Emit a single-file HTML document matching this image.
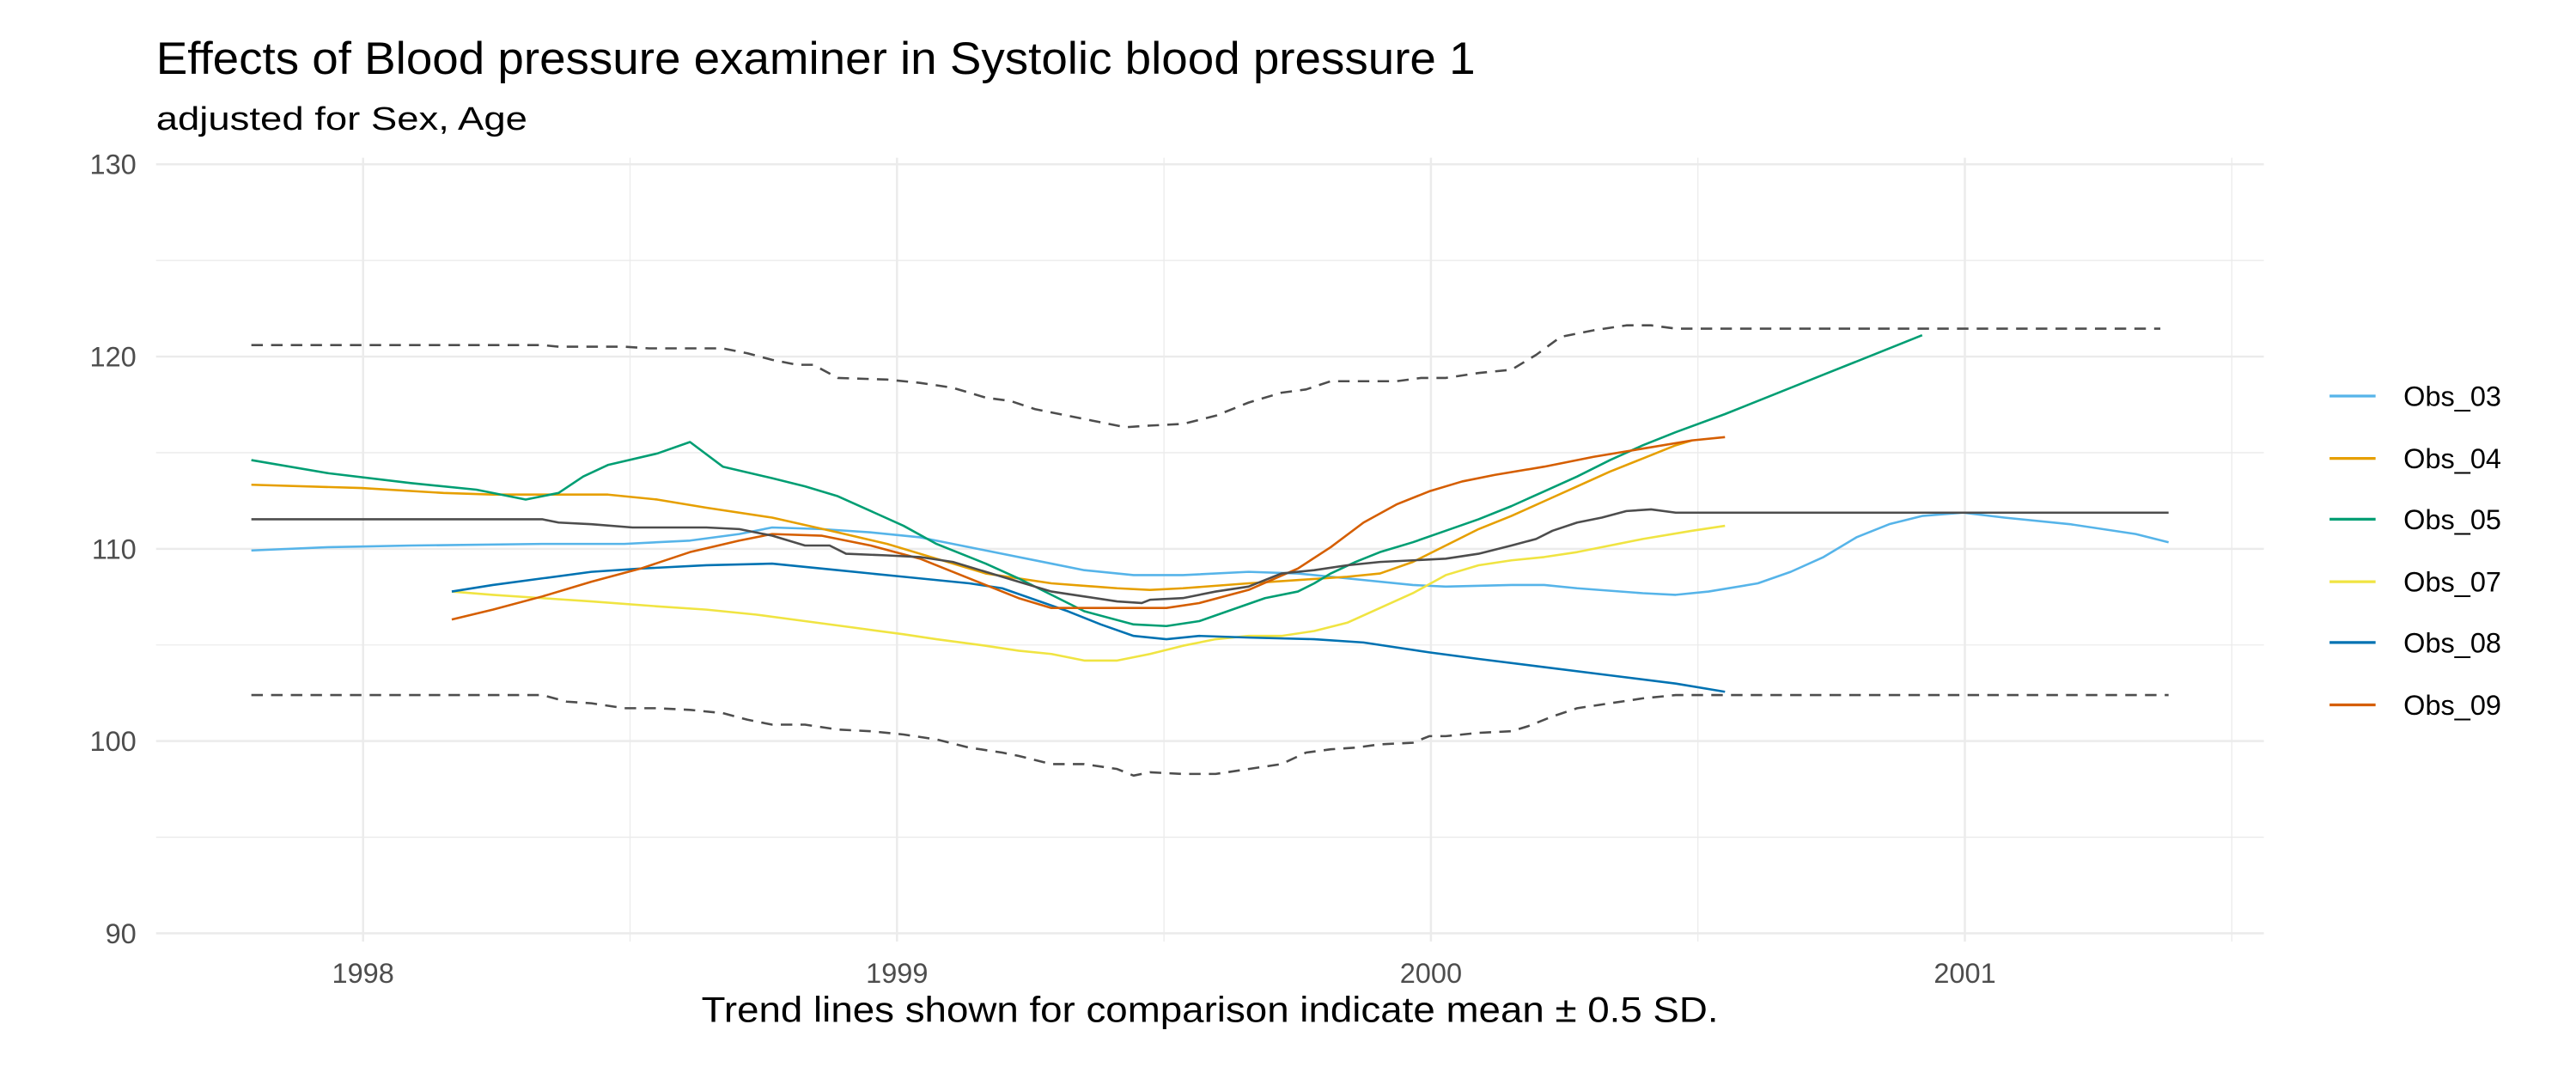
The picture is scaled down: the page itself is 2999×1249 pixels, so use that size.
<!DOCTYPE html>
<html><head><meta charset="utf-8"><style>html,body{margin:0;padding:0;background:#fff}svg{display:block}</style></head>
<body>
<svg width="2999" height="1249" viewBox="0 0 1568 653" preserveAspectRatio="none" xmlns="http://www.w3.org/2000/svg" font-family="Liberation Sans, Arial, sans-serif">
<rect width="1568" height="653" fill="#fff"/>
<g stroke="#EBEBEB" stroke-width="0.7" fill="none">
<line x1="95" x2="1378" y1="158.5" y2="158.5"/><line x1="95" x2="1378" y1="275.5" y2="275.5"/><line x1="95" x2="1378" y1="392.5" y2="392.5"/><line x1="95" x2="1378" y1="509.5" y2="509.5"/>
<line x1="383.5" x2="383.5" y1="96" y2="573"/><line x1="708.5" x2="708.5" y1="96" y2="573"/><line x1="1033.5" x2="1033.5" y1="96" y2="573"/><line x1="1358.5" x2="1358.5" y1="96" y2="573"/>
</g>
<g stroke="#EBEBEB" stroke-width="1.3" fill="none">
<line x1="95" x2="1378" y1="100" y2="100"/><line x1="95" x2="1378" y1="217" y2="217"/><line x1="95" x2="1378" y1="334" y2="334"/><line x1="95" x2="1378" y1="451" y2="451"/><line x1="95" x2="1378" y1="568" y2="568"/>
<line x1="221" x2="221" y1="96" y2="573"/><line x1="546" x2="546" y1="96" y2="573"/><line x1="871" x2="871" y1="96" y2="573"/><line x1="1196" x2="1196" y1="96" y2="573"/>
</g>
<g fill="none" stroke-width="1.35" stroke-linejoin="round">
<polyline stroke="#4D4D4D" stroke-dasharray="7,5" points="153,210 330,210 340,211 380,211 395,212 420,212 440,212 455,215 470,219 485,222 495,222 510,230 540,231 560,233 580,236 600,242 615,244 630,249 650,253 670,257 685,260 700,259 720,258 740,253 760,245 780,239 795,237 810,232 830,232 850,232 865,230 880,230 900,227 920,225 935,216 950,205 970,201 990,198 1005,198 1020,200 1100,200 1315,200"/>
<polyline stroke="#4D4D4D" stroke-dasharray="7,5" points="153,423 330,423 345,427 360,428 380,431 400,431 420,432 440,434 455,438 470,441 490,441 510,444 530,445 550,447 570,450 590,455 610,458 620,460 640,465 660,465 680,468 690,472 700,470 720,471 740,471 760,468 780,465 795,458 810,456 825,455 840,453 860,452 870,448 880,448 900,446 920,445 930,442 945,436 960,431 980,428 1000,425 1020,423 1050,423 1320,423"/>
<polyline stroke="#56B4E9" points="153,335 200,333 250,332 330,331 380,331 420,329 450,325 470,321 500,322 530,324 560,327 580,331 600,335 640,343 660,347 690,350 720,350 760,348 790,349 820,352 860,356 880,357 920,356 940,356 960,358 1000,361 1020,362 1040,360 1070,355 1090,348 1110,339 1130,327 1150,319 1170,314 1195,312 1220,315 1260,319 1300,325 1320,330"/>
<polyline stroke="#E69F00" points="153,295 220,297 270,300 300,301 340,301 370,301 400,304 430,309 470,315 510,324 540,331 570,340 600,349 640,355 680,358 700,359 720,358 760,355 790,353 820,351 840,349 860,342 880,332 900,322 920,314 940,305 960,296 980,287 1000,279 1020,271 1030,268"/>
<polyline stroke="#009E73" points="153,280 200,288 250,294 290,298 320,304 340,300 355,290 370,283 400,276 420,269 440,284 470,291 490,296 510,302 530,311 550,320 570,331 600,343 620,352 640,362 660,372 690,380 710,381 730,378 750,371 770,364 790,360 800,355 810,349 825,342 840,336 860,330 880,323 900,316 920,308 940,299 960,290 980,280 1000,271 1020,263 1050,252 1080,240 1110,228 1140,216 1170,204"/>
<polyline stroke="#F0E442" points="275,360 300,362 330,364 360,366 400,369 430,371 460,374 490,378 520,382 550,386 570,389 600,393 620,396 640,398 660,402 680,402 700,398 720,393 740,389 760,387 780,387 800,384 820,379 840,370 860,361 880,350 900,344 920,341 940,339 960,336 980,332 1000,328 1030,323 1050,320"/>
<polyline stroke="#0072B2" points="275,360 300,356 330,352 360,348 390,346 430,344 470,343 510,347 550,351 590,355 610,358 630,365 650,372 670,380 690,387 710,389 730,387 760,388 800,389 830,391 870,397 900,401 940,406 980,411 1020,416 1050,421"/>
<polyline stroke="#D55E00" points="275,377 300,371 330,363 360,354 390,346 420,336 450,329 470,325 500,326 530,332 560,340 590,352 620,364 640,370 660,370 680,370 710,370 730,367 760,359 790,346 810,333 830,318 850,307 870,299 890,293 910,289 940,284 970,278 1000,273 1030,268 1050,266"/>
<polyline stroke="#4D4D4D" points="153,316 330,316 340,318 360,319 385,321 430,321 450,322 470,326 490,332 505,332 515,337 540,338 560,339 580,342 600,348 620,354 640,360 660,363 680,366 695,367 700,365 720,364 740,360 760,357 780,349 800,347 820,344 840,342 860,341 880,340 900,337 920,332 935,328 945,323 960,318 975,315 990,311 1005,310 1020,312 1100,312 1320,312"/>
</g>
<g fill="#4D4D4D" font-size="17" text-anchor="end">
<text x="83" y="106">130</text><text x="83" y="223">120</text><text x="83" y="340">110</text><text x="83" y="457">100</text><text x="83" y="574">90</text>
</g>
<g fill="#4D4D4D" font-size="17" text-anchor="middle">
<text x="221" y="598">1998</text><text x="546" y="598">1999</text><text x="871" y="598">2000</text><text x="1196" y="598">2001</text>
</g>
<text x="95" y="45" font-size="27.5" fill="#000" textLength="803" lengthAdjust="spacingAndGlyphs">Effects of Blood pressure examiner in Systolic blood pressure 1</text>
<text x="95" y="79" font-size="20" fill="#000" textLength="226" lengthAdjust="spacingAndGlyphs">adjusted for Sex, Age</text>
<text x="427" y="622" font-size="22" fill="#000" textLength="619" lengthAdjust="spacingAndGlyphs">Trend lines shown for comparison indicate mean ± 0.5 SD.</text>
<g stroke-width="1.7">
<line x1="1418" x2="1446" y1="241" y2="241" stroke="#56B4E9"/>
<line x1="1418" x2="1446" y1="279" y2="279" stroke="#E69F00"/>
<line x1="1418" x2="1446" y1="316" y2="316" stroke="#009E73"/>
<line x1="1418" x2="1446" y1="354" y2="354" stroke="#F0E442"/>
<line x1="1418" x2="1446" y1="391" y2="391" stroke="#0072B2"/>
<line x1="1418" x2="1446" y1="429" y2="429" stroke="#D55E00"/>
</g>
<g fill="#000" font-size="17">
<text x="1463" y="247">Obs_03</text><text x="1463" y="285">Obs_04</text><text x="1463" y="322">Obs_05</text><text x="1463" y="360">Obs_07</text><text x="1463" y="397">Obs_08</text><text x="1463" y="435">Obs_09</text>
</g>
</svg>
</body></html>
